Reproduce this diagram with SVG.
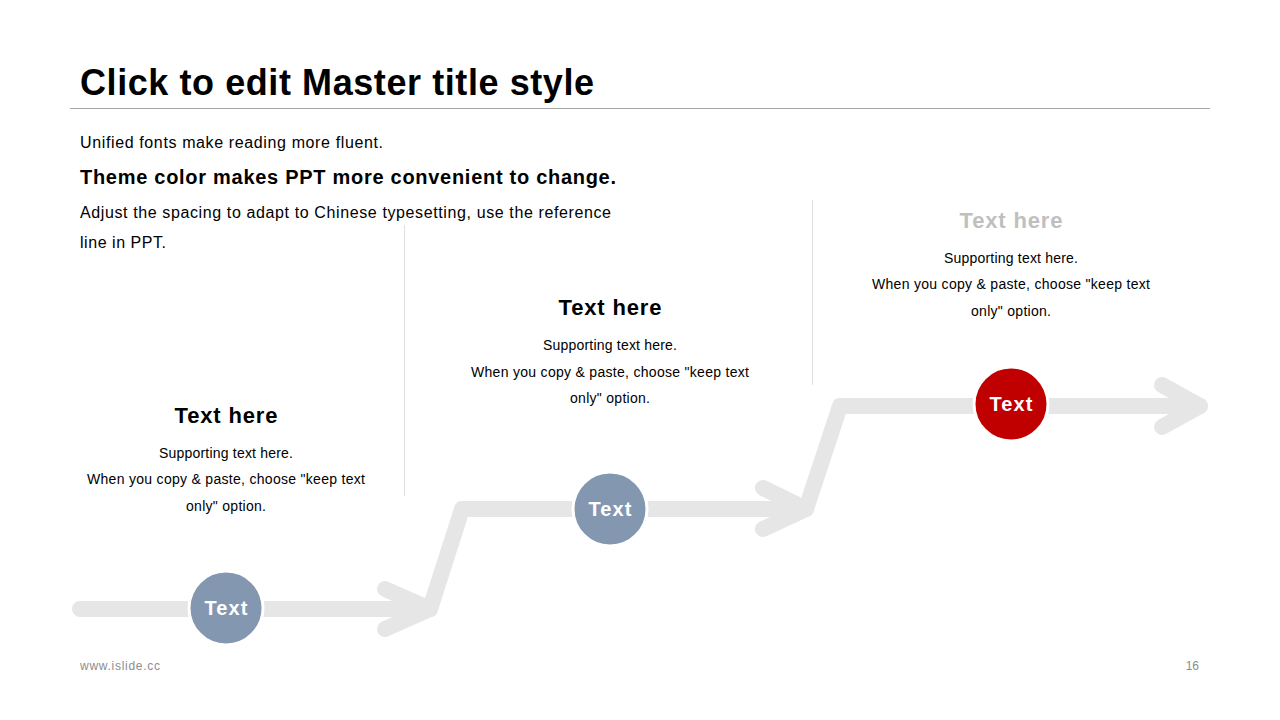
<svg xmlns="http://www.w3.org/2000/svg" width="1280" height="720" viewBox="0 0 1280 720">
<style>
text{font-family:"Liberation Sans",Arial,sans-serif}
.t{font-size:36px;font-weight:bold;fill:#000}
.b{font-size:16px;fill:#000}
.bb{font-size:20px;font-weight:bold;fill:#000}
.h{font-size:22px;font-weight:bold;fill:#000;text-anchor:middle}
.s{font-size:14px;fill:#000;text-anchor:middle}
.c{font-size:20px;font-weight:bold;fill:#fff;text-anchor:middle}
.f{font-size:12px;fill:#8c8c8c}
.p{fill:none;stroke:#e6e6e6;stroke-width:16;stroke-linecap:round;stroke-linejoin:round}
.v{stroke:#e0e0e0;stroke-width:1}
</style>
<rect width="1280" height="720" fill="#fff"/>
<g id="header">
<text class="t" x="80" y="95" textLength="514" lengthAdjust="spacing">Click to edit Master title style</text>
<line x1="70" y1="108.5" x2="1210" y2="108.5" stroke="#a6a6a6" stroke-width="1"/>
<text class="b" x="80" y="148" textLength="303" lengthAdjust="spacing">Unified fonts make reading more fluent.</text>
<text class="bb" x="80" y="184" textLength="536" lengthAdjust="spacing">Theme color makes PPT more convenient to change.</text>
<text class="b" x="80" y="218" textLength="531" lengthAdjust="spacing">Adjust the spacing to adapt to Chinese typesetting, use the reference</text>
<text class="b" x="80" y="248" textLength="86" lengthAdjust="spacing">line in PPT.</text>
</g>
<g id="dividers">
<line class="v" x1="404.5" y1="225" x2="404.5" y2="496"/>
<line class="v" x1="812.5" y1="200" x2="812.5" y2="385"/>
</g>
<g id="connectors">
<path class="p" d="M80,609 H430 L462,509 H806 L840,406 H1200"/>
<path class="p" d="M385,589 L430,609 L385,629"/>
<path class="p" d="M763,488 L806,509 L763,529"/>
<path class="p" d="M1162,385 L1200,406 L1162,427"/>
</g>
<g id="step1">
<text class="h" x="226" y="423" textLength="103" lengthAdjust="spacing">Text here</text>
<text class="s" x="226" y="458" textLength="134" lengthAdjust="spacing">Supporting text here.</text>
<text class="s" x="226" y="484" textLength="278" lengthAdjust="spacing">When you copy &amp; paste, choose "keep text</text>
<text class="s" x="226" y="511" textLength="80" lengthAdjust="spacing">only" option.</text>
<circle cx="226" cy="608" r="37" fill="#8497b0" stroke="#fff" stroke-width="3"/>
<text class="c" x="226" y="615" textLength="43" lengthAdjust="spacing">Text</text>
</g>
<g id="step2">
<text class="h" x="610" y="315" textLength="103" lengthAdjust="spacing">Text here</text>
<text class="s" x="610" y="350" textLength="134" lengthAdjust="spacing">Supporting text here.</text>
<text class="s" x="610" y="377" textLength="278" lengthAdjust="spacing">When you copy &amp; paste, choose "keep text</text>
<text class="s" x="610" y="403" textLength="80" lengthAdjust="spacing">only" option.</text>
<circle cx="610" cy="509" r="37" fill="#8497b0" stroke="#fff" stroke-width="3"/>
<text class="c" x="610" y="516" textLength="43" lengthAdjust="spacing">Text</text>
</g>
<g id="step3">
<text class="h" x="1011" y="228" style="fill:#bfbfbf" textLength="103" lengthAdjust="spacing">Text here</text>
<text class="s" x="1011" y="263" textLength="134" lengthAdjust="spacing">Supporting text here.</text>
<text class="s" x="1011" y="289" textLength="278" lengthAdjust="spacing">When you copy &amp; paste, choose "keep text</text>
<text class="s" x="1011" y="316" textLength="80" lengthAdjust="spacing">only" option.</text>
<circle cx="1011" cy="404" r="37" fill="#c00000" stroke="#fff" stroke-width="3"/>
<text class="c" x="1011" y="411" textLength="43" lengthAdjust="spacing">Text</text>
</g>
<g id="footer">
<text class="f" x="80" y="670" textLength="80" lengthAdjust="spacing">www.islide.cc</text>
<text class="f" x="1199" y="670" text-anchor="end">16</text>
</g>
</svg>
